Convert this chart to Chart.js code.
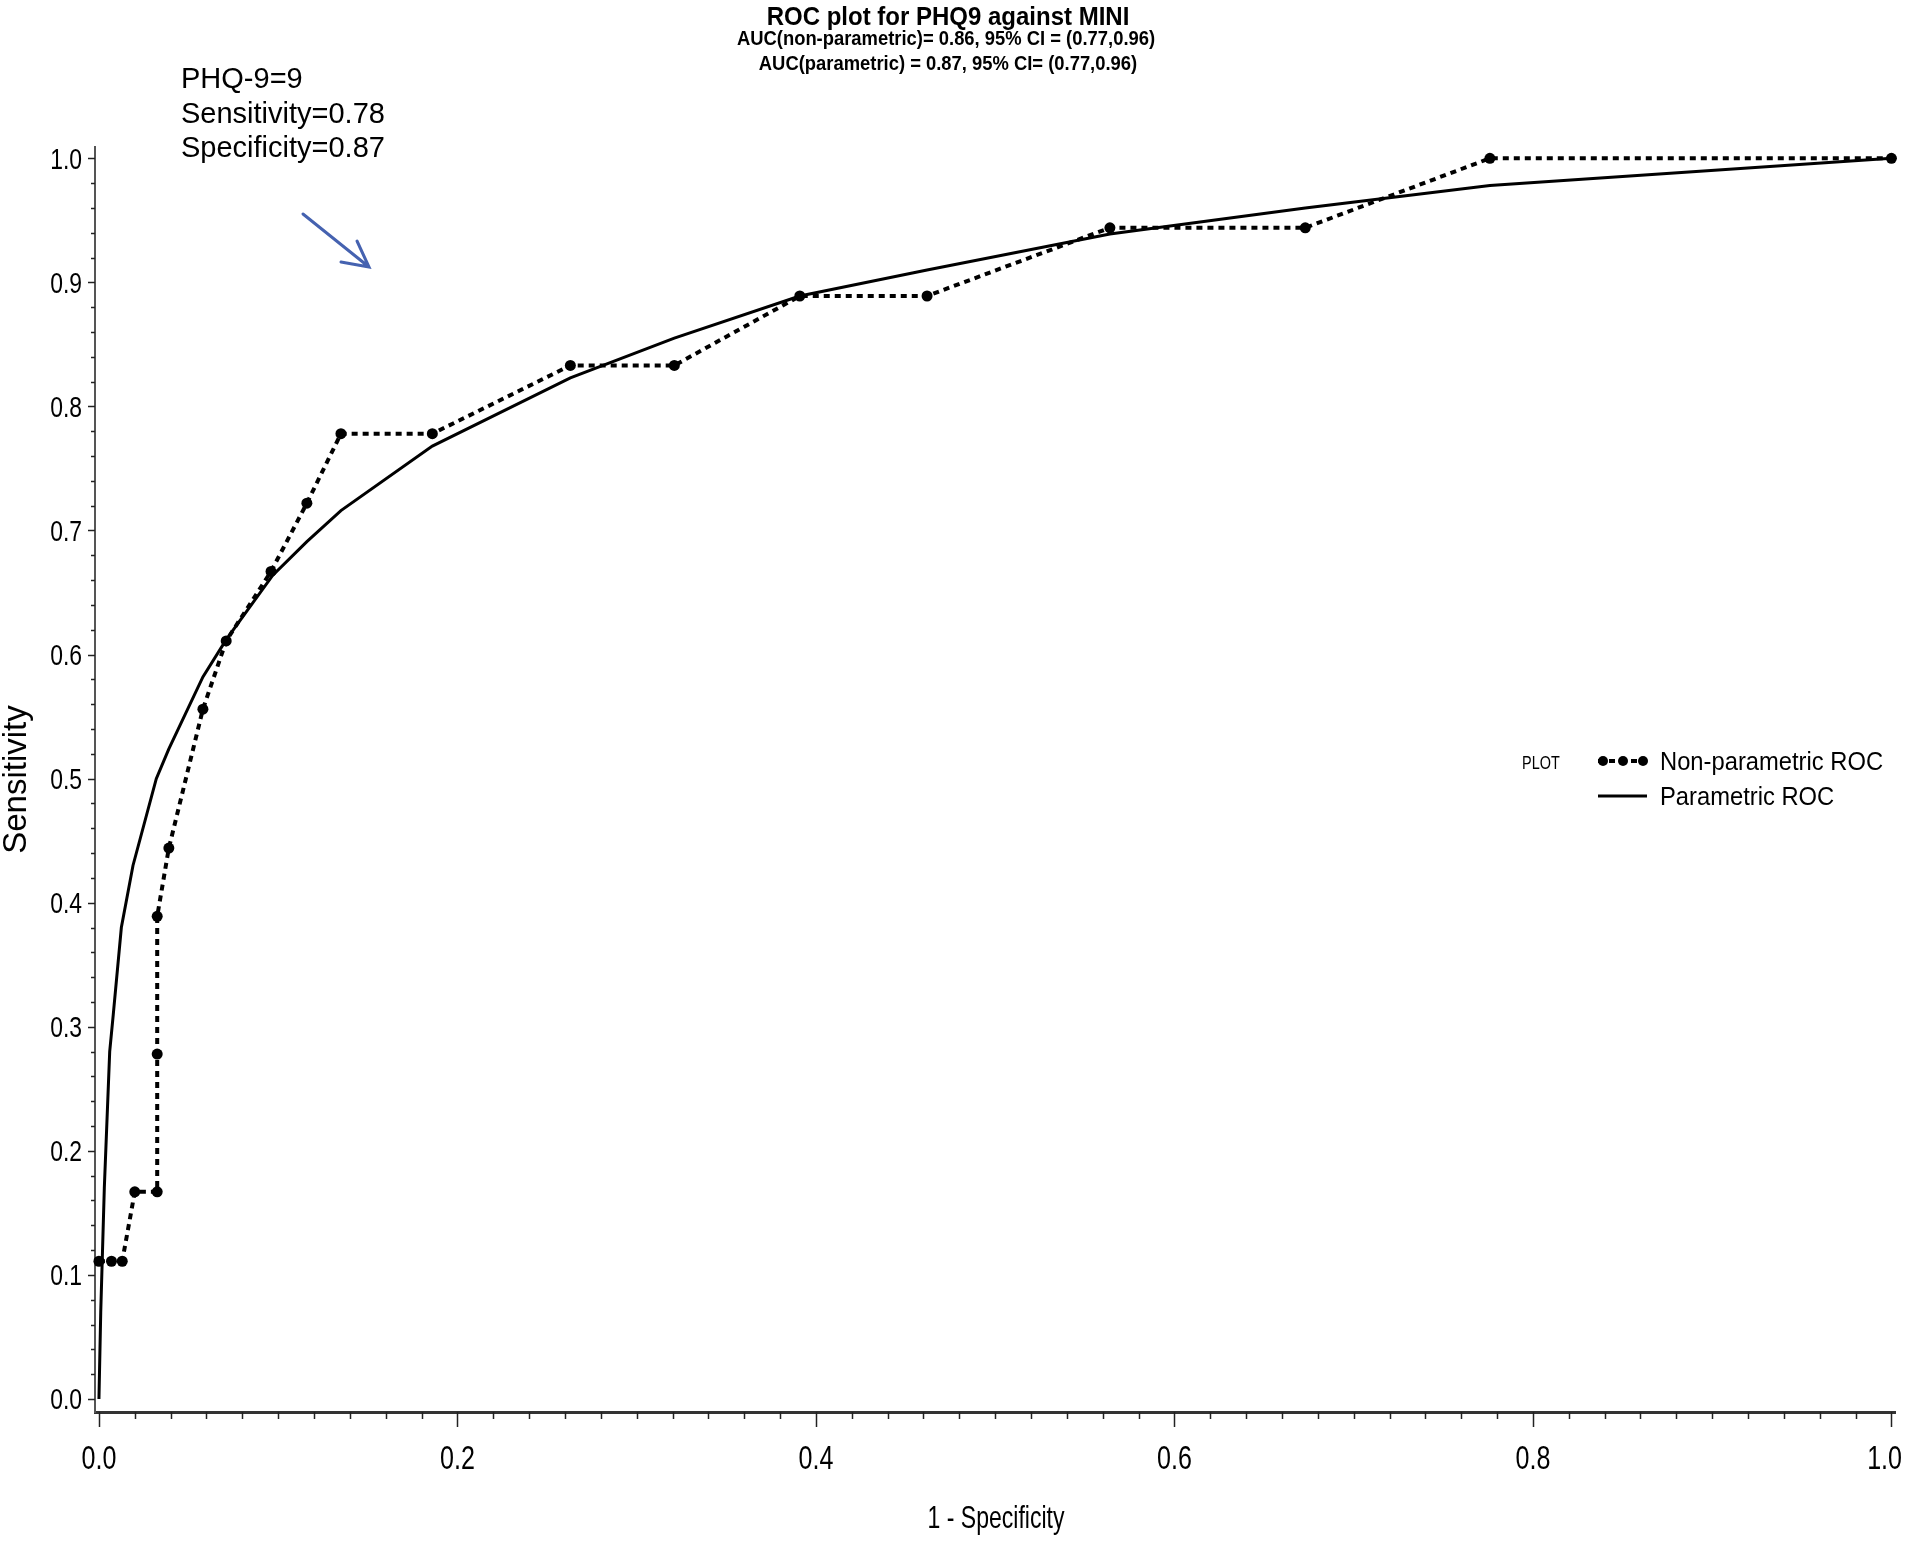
<!DOCTYPE html>
<html>
<head>
<meta charset="utf-8">
<title>ROC plot for PHQ9 against MINI</title>
<script src="https://cdn.jsdelivr.net/npm/chart.js@4.4.0/dist/chart.umd.min.js"></script>
<style>
    html, body { margin: 0; padding: 0; background: #fff; }
    #wrap { width: 1905px; height: 1541px; position: relative; }
</style>
</head>
<body>
<div id="wrap"><canvas id="rocChart" width="1905" height="1541"></canvas></div>
<script>
// Non-parametric ROC: observed (1 - specificity, sensitivity) pairs
const nonParamX = [0, 0.007, 0.013, 0.020, 0.0325, 0.0325, 0.0325, 0.039, 0.058, 0.071, 0.096, 0.116, 0.135, 0.186, 0.263, 0.321, 0.391, 0.462, 0.564, 0.673, 0.776, 1.0];
const nonParamY = [0.111, 0.111, 0.111, 0.167, 0.167, 0.278, 0.389, 0.444, 0.556, 0.611, 0.667, 0.722, 0.778, 0.778, 0.833, 0.833, 0.889, 0.889, 0.944, 0.944, 1.0, 1.0];

// Parametric (binormal) ROC curve
const paramX = [0, 0.001, 0.003, 0.006, 0.008, 0.0125, 0.019, 0.032, 0.039, 0.058, 0.071, 0.097, 0.116, 0.135, 0.186, 0.263, 0.321, 0.391, 0.462, 0.564, 0.673, 0.776, 1.0];
const paramY = [0, 0.07, 0.17, 0.28, 0.31, 0.38, 0.43, 0.50, 0.524, 0.582, 0.612, 0.664, 0.691, 0.716, 0.768, 0.823, 0.855, 0.889, 0.910, 0.939, 0.960, 0.978, 1.0];

// Axis ticks
const xTickValues = [0, 0.2, 0.4, 0.6, 0.8, 1.0];
const xTickLabels = ['0.0', '0.2', '0.4', '0.6', '0.8', '1.0'];
const yTickValues = [0, 0.1, 0.2, 0.3, 0.4, 0.5, 0.6, 0.7, 0.8, 0.9, 1.0];
const yTickLabels = ['0.0', '0.1', '0.2', '0.3', '0.4', '0.5', '0.6', '0.7', '0.8', '0.9', '1.0'];
const minorStep = 0.02;

const titleText = 'ROC plot for PHQ9 against MINI';
const subtitleLines = [
    'AUC(non-parametric)= 0.86, 95% CI = (0.77,0.96)',
    'AUC(parametric) = 0.87, 95% CI= (0.77,0.96)'
];
const noteLines = ['PHQ-9=9', 'Sensitivity=0.78', 'Specificity=0.87'];
const xAxisTitle = '1 - Specificity';
const yAxisTitle = 'Sensitivity';

const SANS = '"Liberation Sans", Arial, sans-serif';

const toPoints = (xs, ys) => xs.map((x, i) => ({ x: x, y: ys[i] }));

// SAS-style condensed text: squeeze a normal face horizontally
function narrowText(ctx, text, x, y, sx, align) {
    ctx.save();
    ctx.translate(x, y);
    ctx.scale(sx, 1);
    ctx.textAlign = align;
    ctx.fillText(text, 0, 0);
    ctx.restore();
}

// Titles, note, arrow, tick marks, tick labels and legend
const decorPlugin = {
    id: 'decor',
    afterDraw(chart) {
        const ctx = chart.ctx;
        const xs = chart.scales.x;
        const ys = chart.scales.y;
        const nMinor = Math.round(1 / minorStep);
        ctx.save();

        // tick marks (major + minor)
        ctx.strokeStyle = '#222';
        ctx.lineWidth = 1.5;
        for (let i = 0; i <= nMinor; i++) {
            const major = i % 10 === 0;
            const px = Math.round(xs.getPixelForValue(i * minorStep)) + 0.5;
            ctx.beginPath();
            ctx.moveTo(px, xs.top);
            ctx.lineTo(px, xs.top + (major ? 15 : 7));
            ctx.stroke();
        }
        for (let i = 0; i <= nMinor; i++) {
            const major = i % 5 === 0;
            const py = Math.round(ys.getPixelForValue(i * minorStep)) + 0.5;
            ctx.beginPath();
            ctx.moveTo(ys.right, py);
            ctx.lineTo(ys.right - (major ? 7 : 4), py);
            ctx.stroke();
        }

        // tick labels (last x label kept inside the canvas)
        ctx.fillStyle = '#000';
        ctx.textBaseline = 'alphabetic';
        ctx.font = '33px ' + SANS;
        xTickValues.forEach((v, i) => {
            const half = ctx.measureText(xTickLabels[i]).width * 0.76 / 2;
            const px = Math.min(xs.getPixelForValue(v), chart.width - 3 - half);
            narrowText(ctx, xTickLabels[i], px, 1469, 0.76, 'center');
        });
        ctx.font = '29px ' + SANS;
        yTickValues.forEach((v, i) => {
            narrowText(ctx, yTickLabels[i], 82, ys.getPixelForValue(v) + 10.5, 0.79, 'right');
        });

        // x axis title
        ctx.font = '32px ' + SANS;
        narrowText(ctx, xAxisTitle, 996, 1528, 0.72, 'center');

        // title block
        ctx.textAlign = 'center';
        ctx.font = 'bold 25px ' + SANS;
        narrowText(ctx, titleText, 948, 25, 0.96, 'center');
        ctx.font = 'bold 21px ' + SANS;
        narrowText(ctx, subtitleLines[0], 946, 45, 0.876, 'center');
        narrowText(ctx, subtitleLines[1], 948, 70, 0.876, 'center');

        // cut-off note
        ctx.textAlign = 'left';
        ctx.font = '29px ' + SANS;
        noteLines.forEach((t, i) => ctx.fillText(t, 181, 88 + i * 34.5));

        // arrow
        ctx.strokeStyle = '#4562b0';
        ctx.lineWidth = 3;
        ctx.lineCap = 'round';
        ctx.beginPath();
        ctx.moveTo(303, 214);
        ctx.lineTo(369, 267);
        ctx.moveTo(357, 241);
        ctx.lineTo(369, 267);
        ctx.lineTo(341, 262);
        ctx.stroke();
        ctx.lineCap = 'butt';

        // legend
        const ds = chart.data.datasets;
        ctx.font = '19px ' + SANS;
        ctx.textBaseline = 'middle';
        narrowText(ctx, 'PLOT', 1522, 764, 0.76, 'left');
        ctx.font = '25px ' + SANS;
        const rows = [761, 796];
        ds.forEach((d, i) => {
            const y = rows[i];
            ctx.strokeStyle = d.borderColor;
            ctx.lineWidth = d.borderWidth;
            ctx.setLineDash(d.borderDash || []);
            ctx.beginPath();
            ctx.moveTo(1598, y);
            ctx.lineTo(1647, y);
            ctx.stroke();
            ctx.setLineDash([]);
            if (d.pointRadius > 0) {
                ctx.fillStyle = d.backgroundColor;
                [1603, 1623, 1643].forEach(px => {
                    ctx.beginPath();
                    ctx.arc(px, y, 5, 0, Math.PI * 2);
                    ctx.fill();
                });
            }
            ctx.fillStyle = '#000';
            narrowText(ctx, d.label, 1660, y + 2, 0.95, 'left');
        });
        ctx.restore();
    }
};

const ctx = document.getElementById('rocChart').getContext('2d');
const rocChart = new Chart(ctx, {
    type: 'scatter',
    data: {
        datasets: [{
            label: 'Non-parametric ROC',
            data: toPoints(nonParamX, nonParamY),
            showLine: true,
            borderColor: '#000',
            backgroundColor: '#000',
            borderWidth: 4,
            borderDash: [6, 5],
            pointRadius: 5.5,
            pointHoverRadius: 5.5,
            pointBorderWidth: 0,
            tension: 0,
            clip: false
        }, {
            label: 'Parametric ROC',
            data: toPoints(paramX, paramY),
            showLine: true,
            borderColor: '#000',
            backgroundColor: '#000',
            borderWidth: 3,
            pointRadius: 0,
            tension: 0,
            clip: false
        }]
    },
    options: {
        responsive: false,
        animation: false,
        devicePixelRatio: 1,
        layout: { padding: { left: 0, right: 10, top: 147, bottom: 0 } },
        plugins: {
            legend: { display: false },
            tooltip: { enabled: false },
            title: { display: false }
        },
        scales: {
            x: {
                type: 'linear',
                min: -0.0022,
                max: 1.002,
                afterBuildTicks: (scale) => { scale.ticks = xTickValues.map(v => ({ value: v })); },
                afterFit: (scale) => {
                    scale.height = 129;
                    scale.paddingLeft = 0;
                    scale.paddingRight = 0;
                },
                grid: { display: false, drawTicks: false },
                border: { display: true, color: '#333', width: 3 },
                ticks: { display: false },
                title: { display: false }
            },
            y: {
                type: 'linear',
                min: -0.0105,
                max: 1.0091,
                afterBuildTicks: (scale) => { scale.ticks = yTickValues.map(v => ({ value: v })); },
                afterFit: (scale) => {
                    scale.width = 95;
                    scale.paddingTop = 0;
                    scale.paddingBottom = 0;
                },
                grid: { display: false, drawTicks: false },
                border: { display: true, color: '#555', width: 2 },
                ticks: { display: false },
                title: {
                    display: true,
                    text: yAxisTitle,
                    color: '#000',
                    font: { family: SANS, size: 33, lineHeight: 1 },
                    padding: { top: 0, bottom: 0 }
                }
            }
        }
    },
    plugins: [decorPlugin]
});
</script>
</body>
</html>
